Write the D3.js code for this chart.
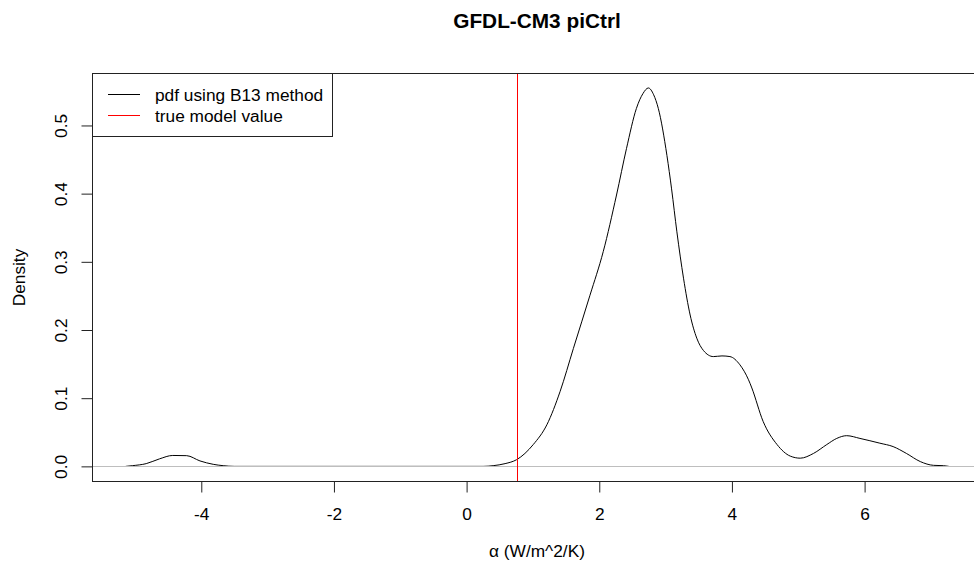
<!DOCTYPE html>
<html>
<head>
<meta charset="utf-8">
<script src="https://cdn.jsdelivr.net/npm/d3@7"></script>
<style>
body { margin: 0; background: #fff; }
svg text { font-family: "Liberation Sans", Arial, sans-serif; fill: #000; }
</style>
</head>
<body>
<svg id="chart" width="974" height="561"></svg>
<script>
// density curve
var alpha = [-5.14, -5.04, -4.83, -4.63, -4.43, -4.22, -4.02, -3.82, -3.67, -3.5,
    0.25, 0.40, 0.58, 0.754, 1.005, 1.21, 1.41, 1.61, 1.86, 2.06, 2.26, 2.41, 2.56,
    2.66, 2.74, 2.82, 2.89, 3.02, 3.09, 3.17, 3.27, 3.37, 3.47, 3.57, 3.72, 3.85,
    3.97, 4.12, 4.25, 4.30, 4.47, 4.68, 4.88, 5.03, 5.23, 5.43, 5.58, 5.73, 5.93,
    6.23, 6.43, 6.63, 6.84, 7.04, 7.19, 7.27]
var density = [0, 0.001, 0.004, 0.011, 0.016, 0.0157, 0.008, 0.003, 0.001, 0,
    0, 0.001, 0.004, 0.0098, 0.032, 0.061, 0.110, 0.173, 0.251, 0.315, 0.398, 0.466, 0.525,
    0.547, 0.555, 0.545, 0.525, 0.456, 0.407, 0.344, 0.276, 0.222, 0.188, 0.170, 0.161, 0.162,
    0.161, 0.149, 0.127, 0.115, 0.066, 0.032, 0.015, 0.012, 0.019, 0.032, 0.041, 0.045, 0.041,
    0.034, 0.029, 0.019, 0.007, 0.0015, 0.001, 0]
var trueValue = 0.754
var xTicks = [-4, -2, 0, 2, 4, 6]
var yTicks = [0, 0.1, 0.2, 0.3, 0.4, 0.5]
var legendLabels = ['pdf using B13 method', 'true model value']
var legendColors = ['#000000', '#ff0000']

// plot box edges (right edge lies outside the window, as in the reference)
var boxL = 92.5, boxR = 982, boxT = 73.5, boxB = 481.5
var svg = d3.select('#chart')

var x = d3.scaleLinear().domain([-5.64, 7.77]).range([boxL, boxR])
var y = d3.scaleLinear().domain([-0.0222, 0.5762]).range([boxB, boxT])

var points = alpha.map(function(a, i) { return [a, density[i]] })

// curve
svg.append('path')
    .datum(points)
    .attr('fill', 'none')
    .attr('stroke', '#000')
    .attr('stroke-width', 1)
    .attr('d', d3.line()
        .x(function(d) { return x(d[0]) })
        .y(function(d) { return y(d[1]) })
        .curve(d3.curveMonotoneX))

// zero line (abline h=0) drawn over the curve tails
var y0 = Math.round(y(0)) + 0.5
svg.append('line')
    .attr('x1', boxL).attr('x2', boxR)
    .attr('y1', y0).attr('y2', y0)
    .attr('stroke', '#bebebe').attr('stroke-width', 1)

// true model value
var xv = Math.round(x(trueValue)) + 0.5
svg.append('line')
    .attr('x1', xv).attr('x2', xv)
    .attr('y1', boxT).attr('y2', boxB)
    .attr('stroke', '#ff0000').attr('stroke-width', 1)

// plot box
svg.append('rect')
    .attr('x', boxL).attr('y', boxT)
    .attr('width', boxR - boxL).attr('height', boxB - boxT)
    .attr('fill', 'none').attr('stroke', '#222').attr('stroke-width', 1)

// x axis
var xAxis = d3.axisBottom(x).tickValues(xTicks).tickSize(11)
    .tickFormat(function(d) { return d < 0 ? '-' + Math.abs(d) : d })
var gx = svg.append('g')
    .attr('transform', 'translate(0,' + boxB + ')')
    .call(xAxis)
gx.select('.domain').remove()
gx.selectAll('line').attr('stroke', '#222')
gx.selectAll('text').style('font-size', '17.3px').attr('fill', '#000')
    .attr('dy', null).attr('y', 38)

// y axis
var yAxis = d3.axisLeft(y).tickValues(yTicks).tickSize(11)
    .tickFormat(d3.format('.1f'))
var gy = svg.append('g')
    .attr('transform', 'translate(' + boxL + ',0)')
    .call(yAxis)
gy.select('.domain').remove()
gy.selectAll('line').attr('stroke', '#222')
gy.selectAll('text')
    .style('font-size', '17.3px').attr('fill', '#000')
    .attr('x', null).attr('dy', null)
    .attr('text-anchor', 'middle')
    .attr('transform', 'translate(-26,0) rotate(-90)')

// labels
svg.append('text')
    .attr('x', 537).attr('y', 28)
    .attr('text-anchor', 'middle')
    .style('font-size', '20.8px').style('font-weight', 'bold')
    .text('GFDL-CM3 piCtrl')
svg.append('text')
    .attr('x', 537).attr('y', 557)
    .attr('text-anchor', 'middle')
    .style('font-size', '17.3px')
    .text('α (W/m^2/K)')
svg.append('text')
    .attr('transform', 'translate(25,' + ((boxT + boxB) / 2) + ') rotate(-90)')
    .attr('text-anchor', 'middle')
    .style('font-size', '17.3px')
    .text('Density')

// legend
var lg = svg.append('g')
lg.append('rect')
    .attr('x', boxL).attr('y', boxT)
    .attr('width', 332.5 - boxL).attr('height', 136.5 - boxT)
    .attr('fill', '#fff').attr('stroke', '#222').attr('stroke-width', 1)
legendLabels.forEach(function(label, i) {
    var ly = 94.5 + i * 21
    lg.append('line')
        .attr('x1', 108).attr('x2', 140)
        .attr('y1', ly).attr('y2', ly)
        .attr('stroke', legendColors[i]).attr('stroke-width', 1)
    lg.append('text')
        .attr('x', 155).attr('y', ly + 6)
        .style('font-size', '17.3px')
        .text(label)
})
</script>
</body>
</html>
